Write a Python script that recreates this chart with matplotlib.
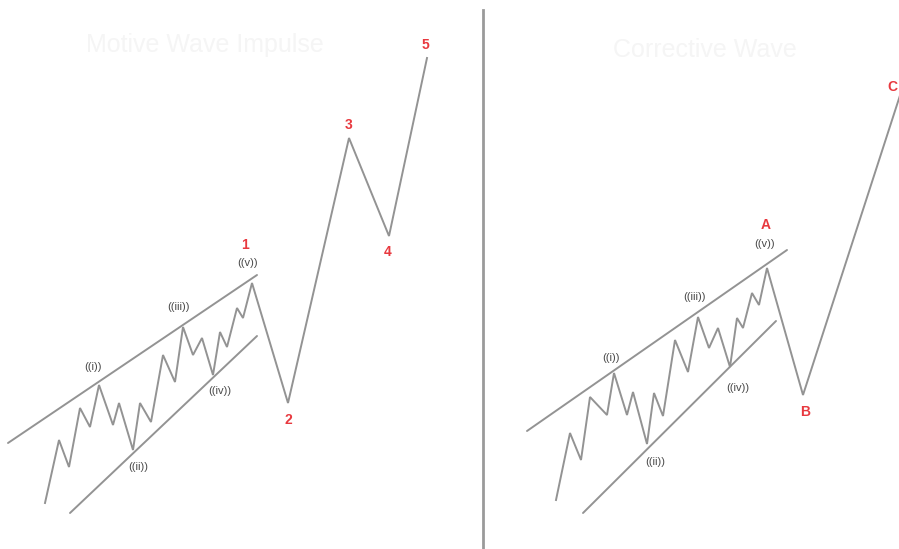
import matplotlib.pyplot as plt

plt.rcParams['font.family'] = ['Liberation Sans', 'DejaVu Sans']

# Left panel: impulse (1-2-3-4-5), subwaves of wave 1 drawn inside a channel
impulse_x = [45, 59, 69, 80, 90, 99, 113, 119, 133, 140, 151, 163, 175, 183,
             193, 202, 213, 220, 227, 237, 243, 252, 288, 349, 389, 427]
impulse_y = [503, 440, 467, 408, 427, 385, 425, 403, 450, 403, 422, 355, 382, 327,
             355, 338, 375, 332, 347, 308, 318, 283, 403, 138, 236, 58]
impulse_upper = ([8, 257], [443, 275])
impulse_lower = ([70, 257], [513, 336])

# Right panel: zigzag (A-B-C), wave A subdivided inside a channel
zigzag_x = [556, 570, 581, 590, 607, 614, 627, 633, 647, 654, 663, 675, 688, 698,
            709, 718, 730, 737, 743, 752, 759, 767, 803, 905]
zigzag_y = [500, 433, 460, 397, 415, 373, 415, 392, 444, 393, 416, 340, 372, 317,
            348, 328, 367, 318, 328, 293, 305, 268, 395, 80]
zigzag_upper = ([527, 787], [431, 250])
zigzag_lower = ([583, 776], [513, 321])

# (text, x, y)
sub_labels = [("((i))", 93, 367), ("((ii))", 138, 467), ("((iii))", 178, 307),
              ("((iv))", 220, 391), ("((v))", 248, 263),
              ("((i))", 611, 358), ("((ii))", 655, 462), ("((iii))", 694, 297),
              ("((iv))", 738, 388), ("((v))", 765, 244)]
main_labels = [("1", 245, 245), ("2", 288, 420), ("3", 349, 125), ("4", 388, 252),
               ("5", 425, 45), ("A", 766, 225), ("B", 805, 412), ("C", 892, 87)]

line_col = "#939393"
red = "#e8393f"

fig = plt.figure(figsize=(8.99, 5.49), dpi=100)
ax = fig.add_axes([0, 0, 1, 1])
ax.set_xlim(0, 899)
ax.set_ylim(549, 0)
ax.axis("off")

for xs, ys in (impulse_upper, impulse_lower, zigzag_upper, zigzag_lower):
    ax.plot(xs, ys, color=line_col, lw=1.4, solid_capstyle="round")
ax.plot(impulse_x, impulse_y, color=line_col, lw=1.4, solid_joinstyle="miter")
ax.plot(zigzag_x, zigzag_y, color=line_col, lw=1.4, solid_joinstyle="miter")

# divider between the two panels
ax.plot([483, 483], [10, 549], color="#9a9a9a", lw=2)

for txt, x, y in sub_labels:
    ax.text(x, y, txt, color="#4a4a4a", fontsize=8, ha="center", va="center")
for txt, x, y in main_labels:
    ax.text(x, y, txt, color=red, fontsize=10, fontweight="bold",
            ha="center", va="center")

# faint header text as in the source image
ax.text(205, 45, "Motive Wave Impulse", color="#f5f5f5", fontsize=18,
        ha="center", va="center")
ax.text(705, 50, "Corrective Wave", color="#f5f5f5", fontsize=18,
        ha="center", va="center")

fig.savefig("out.png", dpi=100)
